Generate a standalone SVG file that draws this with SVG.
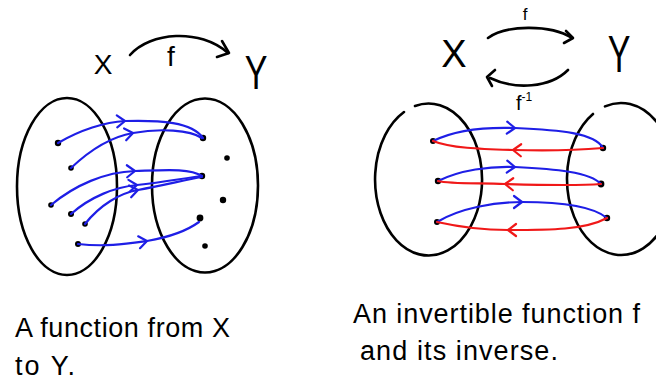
<svg xmlns="http://www.w3.org/2000/svg" width="656" height="381" viewBox="0 0 656 381">
<style>
.set{fill:none;stroke:#000;stroke-width:2.6;stroke-linecap:round}
.dot{fill:#000}
.lbl{font-family:"Liberation Sans",Arial,sans-serif;fill:#000}
.blue{fill:none;stroke:#1e1ee6;stroke-width:2.2;stroke-linecap:round;marker-mid:url(#hb)}
.red{fill:none;stroke:#f01818;stroke-width:2.2;stroke-linecap:round;marker-mid:url(#hr)}
.blk{fill:none;stroke:#000;stroke-width:2.6;stroke-linecap:round;stroke-linejoin:round}
.cap{font-family:"Liberation Sans",Arial,sans-serif;font-size:27px;fill:#000}
</style>
<defs>
<marker id="hb" markerUnits="userSpaceOnUse" markerWidth="20" markerHeight="20" refX="0" refY="0" viewBox="-10 -10 20 20" orient="auto" overflow="visible">
<path d="M-8,-6 L0,0 L-8,6" fill="none" stroke="#1e1ee6" stroke-width="2.2" stroke-linecap="round" stroke-linejoin="round"/>
</marker>
<marker id="hr" markerUnits="userSpaceOnUse" markerWidth="20" markerHeight="20" refX="0" refY="0" viewBox="-10 -10 20 20" orient="auto" overflow="visible">
<path d="M-8,-6 L0,0 L-8,6" fill="none" stroke="#f01818" stroke-width="2.2" stroke-linecap="round" stroke-linejoin="round"/>
</marker>
</defs>

<!-- Left figure: a function from X to Y -->
<g id="labelX1"><text class="lbl" x="103" y="74" font-size="28" text-anchor="middle">X</text></g>
<g id="labelY1"><text class="lbl" font-size="34" text-anchor="middle" transform="translate(256,89) scale(1,1.4)">Y</text></g>
<g id="labelf1"><text class="lbl" x="171" y="66" font-size="28" text-anchor="middle">f</text></g>
<g id="setX1">
<ellipse class="set" cx="67" cy="186.5" rx="50" ry="88.5"/>
<circle class="dot" cx="58" cy="143" r="3.2"/>
<circle class="dot" cx="71" cy="168" r="2.8"/>
<circle class="dot" cx="51" cy="205" r="2.8"/>
<circle class="dot" cx="71" cy="214" r="3"/>
<circle class="dot" cx="85" cy="224" r="2.8"/>
<circle class="dot" cx="78" cy="244" r="3"/>
</g>
<g id="setY1">
<ellipse class="set" cx="205" cy="185.5" rx="53" ry="87"/>
<circle class="dot" cx="203" cy="138" r="3.2"/>
<circle class="dot" cx="227" cy="158" r="2.8"/>
<circle class="dot" cx="202" cy="176" r="3.2"/>
<circle class="dot" cx="223" cy="200" r="3.2"/>
<circle class="dot" cx="200" cy="218" r="3.4"/>
<circle class="dot" cx="205" cy="246" r="2.8"/>
</g>

<!-- Right figure: invertible function -->
<g id="labelX2"><text class="lbl" x="454" y="67" font-size="38" text-anchor="middle">X</text></g>
<g id="labelY2"><text class="lbl" font-size="34" text-anchor="middle" transform="translate(619,72) scale(1,1.5)">Y</text></g>
<g id="labelf2"><text class="lbl" x="525" y="20" font-size="17" text-anchor="middle">f</text></g>
<g id="labelfinv"><text class="lbl" x="516" y="110" font-size="20">f<tspan font-size="12" dy="-9">-1</tspan></text></g>
<g id="setX2">
<path class="set" d="M415,106 A53.5,76 0 1 1 404,112"/>
<circle class="dot" cx="433" cy="141" r="3"/>
<circle class="dot" cx="438" cy="181" r="3.2"/>
<circle class="dot" cx="437" cy="222" r="3"/>
</g>
<g id="setY2">
<path class="set" d="M605,106.4 A54,76 0 1 1 593,114"/>
<circle class="dot" cx="603" cy="148" r="3.2"/>
<circle class="dot" cx="601" cy="184" r="3.4"/>
<circle class="dot" cx="607" cy="218" r="3.2"/>
</g>

<g id="connectors">
<!-- top arrows -->
<path class="blk" d="M130,55 C150,32 200,28 228,53"/>
<path class="blk" d="M222,41 L229,53 L217,57"/>
<path class="blk" d="M488,38 C505,25 550,24 572,38"/>
<path class="blk" d="M566,31 L573,38 L564,43"/>
<path class="blk" d="M568,70 C550,88 515,90 490,78"/>
<path class="blk" d="M495,70 L487,77 L492,86"/>
<!-- left mapping -->
<path class="blue" d="M58,143 C80,130 105,122 125,121 C160,120 192,122 203,138"/>
<path class="blue" d="M71,168 C90,150 110,137 133,133 C160,128 190,130 202,138"/>
<path class="blue" d="M51,205 C75,185 105,172 135,171 C165,170 190,168 202,176"/>
<path class="blue" d="M71,214 C90,197 115,187 137,185 C165,182 185,178 202,176"/>
<path class="blue" d="M85,224 C100,205 120,193 138,190 C165,185 185,180 202,177"/>
<path class="blue" d="M78,244 C105,247 125,244 147,241 C170,237 188,230 199,222"/>
<!-- right mapping -->
<path class="blue" d="M433,141 C455,130 485,127 515,128 C560,130 595,133 603,148"/>
<path class="blue" d="M438,181 C460,170 490,166 515,167 C555,169 590,172 601,184"/>
<path class="blue" d="M437,222 C460,208 495,202 522,202 C570,202 595,208 607,218"/>
<path class="red" d="M603,148 C580,150 545,151 513,150 C480,149 450,148 433,141"/>
<path class="red" d="M601,184 C575,186 540,185 505,184 C475,183 450,184 438,181"/>
<path class="red" d="M607,218 C585,230 550,230 508,230 C480,230 455,226 437,222"/>
</g>

<g id="captions">
<text class="cap" x="15" y="337" textLength="215" lengthAdjust="spacing">A function from X</text>
<text class="cap" x="15" y="375" textLength="60" lengthAdjust="spacing">to Y.</text>
<text class="cap" x="353" y="323" textLength="287" lengthAdjust="spacing">An invertible function f</text>
<text class="cap" x="360" y="360" textLength="198" lengthAdjust="spacing">and its inverse.</text>
</g>
</svg>
